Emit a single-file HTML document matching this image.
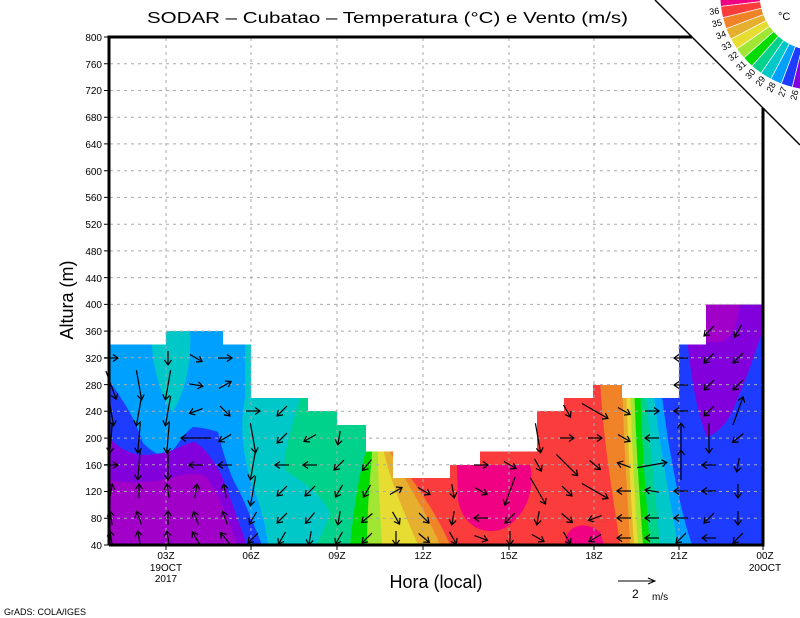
<!DOCTYPE html>
<html><head><meta charset="utf-8"><style>
html,body{margin:0;padding:0;background:#fff;}
svg{display:block;font-family:"Liberation Sans",sans-serif;}
</style></head><body>
<svg width="800" height="618" viewBox="0 0 800 618" xmlns="http://www.w3.org/2000/svg">
<defs>
<clipPath id="cp"><path d="M109,344.5 H166 V331 H223 V344.5 H251 V398 H308 V411 H337 V425 H366 V451.5 H393 V478 H450 V465 H480 V451.5 H537 V411 H564 V398 H593 V385 H622 V398 H679 V344.5 H706 V304.5 H763 V545 H109 Z"/></clipPath>
<g id="a" stroke="#000" stroke-width="1.2" fill="none"><line x1="-7" y1="0" x2="7" y2="0"/><path d="M2,-3.5 L7,0 L2,3.5"/></g>
<g id="b" stroke="#000" stroke-width="1.2" fill="none"><line x1="-15" y1="0" x2="15" y2="0"/><path d="M10,-3.5 L15,0 L10,3.5"/></g>
<path id="w" d="M760,-5 L720,-5 A95,95 0 0 0 720.69,6.45 L760.4,1.63 A55,55 0 0 1 760,-5 Z" stroke="#fff" stroke-width="0.7"/>
</defs>
<rect width="800" height="618" fill="#fff"/>
<g clip-path="url(#cp)">
<rect x="109" y="300" width="654" height="245" fill="#00a0ff"/>
<path d="M152,330 C150,360 160,395 172,412 C185,395 192,360 190,330 Z" fill="#00c8c8"/>
<path d="M109,380 C120,397 133,413 143,443 C152,452 160,456 167,457 C178,445 185,432 193,427 C205,428 212,430 218,432 C222,450 230,475 237,487 C244,500 252,520 262,545 L109,545 Z" fill="#1e3cff"/>
<path d="M109,437 C125,455 140,458 167,452 C180,448 188,442 195,442 C205,448 213,460 220,472 C228,490 236,515 247,545 L109,545 Z" fill="#8200dc"/>
<path d="M109,480 C130,484 150,483 170,478 C185,474 195,472 205,476 C216,490 228,515 237,545 L109,545 Z" fill="#a000c8"/>
<path d="M245,398 C238,430 246,470 253,487 C260,505 266,525 268,545 L763,545 L763,300 L245,300 Z" fill="#00c8c8"/>
<path d="M300,398 C292,430 282,455 285,470 C300,480 320,492 330,513 C325,530 318,540 317,545 L763,545 L763,300 L300,300 Z" fill="#00d28c"/>
<path d="M366,452 C360,470 355,500 350,545 L763,545 L763,300 Z" fill="#00dc00"/>
<path d="M372,452 C370,480 367,510 367,545 L763,545 L763,300 L372,300 Z" fill="#a0e632"/>
<path d="M378,452 C378,480 380,510 382,545 L763,545 L763,300 L378,300 Z" fill="#e6dc32"/>
<path d="M384,452 C390,480 405,515 418,545 L763,545 L763,300 L384,300 Z" fill="#e6af2d"/>
<path d="M390,452 C405,480 428,515 440,545 L763,545 L763,300 L390,300 Z" fill="#f08228"/>
<path d="M405,470 C420,490 440,520 450,545 L763,545 L763,300 L405,300 Z" fill="#fa3c3c"/>
<path d="M457,465 L530,465 C536,490 525,520 500,530 C478,535 462,522 458,500 Z" fill="#f00082"/>
<path d="M565,545 C565,525 585,520 600,532 L604,545 Z" fill="#f00082"/>
<path d="M600,380 C604,450 614,500 620,545 L763,545 L763,300 L600,300 Z" fill="#f08228"/>
<path d="M622,380 C624,450 628,500 630,545 L763,545 L763,300 L622,300 Z" fill="#e6af2d"/>
<path d="M626,380 C628,450 631,500 634,545 L763,545 L763,300 L626,300 Z" fill="#e6dc32"/>
<path d="M630,380 C632,450 635,500 638,545 L763,545 L763,300 L630,300 Z" fill="#a0e632"/>
<path d="M634,380 C636,450 640,500 643,545 L763,545 L763,300 L634,300 Z" fill="#00dc00"/>
<path d="M640,380 C642,450 646,500 650,545 L763,545 L763,300 L640,300 Z" fill="#00d28c"/>
<path d="M645,380 C650,450 656,500 660,545 L763,545 L763,300 L645,300 Z" fill="#00c8c8"/>
<path d="M652,380 C660,450 670,500 678,545 L763,545 L763,300 L652,300 Z" fill="#00a0ff"/>
<path d="M660,380 C668,450 680,510 692,545 L763,545 L763,300 L660,300 Z" fill="#1e3cff"/>
<path d="M688,300 L688,345 C692,390 700,420 707,437 C720,432 730,420 737,400 C748,375 756,350 763,330 L763,300 Z" fill="#8200dc"/>
<path d="M706,300 L740,300 C738,320 735,335 722,342 L706,342 Z" fill="#a000c8"/>
</g>
<path stroke="#aaa" stroke-width="1" stroke-dasharray="3,4" fill="none" d="
M110,518.3H763 M110,491.5H763 M110,464.8H763 M110,438.1H763 M110,411.3H763 M110,384.6H763 M110,357.8H763 M110,331.1H763 M110,304.4H763 M110,277.6H763 M110,250.9H763 M110,224.2H763 M110,197.4H763 M110,170.7H763 M110,143.9H763 M110,117.2H763 M110,90.5H741 M110,63.7H715
M166,38V544 M251,38V544 M337,38V544 M423,38V544 M509,38V544 M594,38V544 M679,38V544"/>
<g>
<use href="#a" transform="translate(111,538) rotate(-100)"/><use href="#a" transform="translate(111,518) rotate(-100)"/><use href="#a" transform="translate(111,491) rotate(-80)"/><use href="#a" transform="translate(111,465) rotate(0)"/><use href="#b" transform="translate(111,438) rotate(95)"/><use href="#b" transform="translate(111,411) rotate(80)"/><use href="#b" transform="translate(111,385) rotate(70)"/><use href="#a" transform="translate(111,358) rotate(0)"/>
<use href="#a" transform="translate(139,538) rotate(-100)"/><use href="#a" transform="translate(139,518) rotate(-110)"/><use href="#a" transform="translate(139,491) rotate(-90)"/><use href="#b" transform="translate(139,465) rotate(95)"/><use href="#b" transform="translate(139,438) rotate(95)"/><use href="#b" transform="translate(139,411) rotate(100)"/><use href="#b" transform="translate(139,385) rotate(80)"/>
<use href="#a" transform="translate(168,538) rotate(-100)"/><use href="#a" transform="translate(168,518) rotate(-90)"/><use href="#a" transform="translate(168,491) rotate(-100)"/><use href="#b" transform="translate(168,465) rotate(90)"/><use href="#b" transform="translate(168,438) rotate(95)"/><use href="#b" transform="translate(168,411) rotate(100)"/><use href="#b" transform="translate(168,385) rotate(100)"/><use href="#a" transform="translate(168,358) rotate(90)"/>
<use href="#a" transform="translate(196,538) rotate(-120)"/><use href="#a" transform="translate(196,518) rotate(-110)"/><use href="#a" transform="translate(196,491) rotate(-80)"/><use href="#a" transform="translate(196,465) rotate(180)"/><use href="#b" transform="translate(196,438) rotate(180)"/><use href="#a" transform="translate(196,411) rotate(160)"/><use href="#a" transform="translate(196,385) rotate(10)"/><use href="#a" transform="translate(196,358) rotate(30)"/>
<use href="#a" transform="translate(225,538) rotate(-130)"/><use href="#a" transform="translate(225,518) rotate(-110)"/><use href="#a" transform="translate(225,491) rotate(-100)"/><use href="#a" transform="translate(225,465) rotate(180)"/><use href="#a" transform="translate(225,438) rotate(150)"/><use href="#a" transform="translate(225,411) rotate(45)"/><use href="#a" transform="translate(225,385) rotate(-30)"/><use href="#a" transform="translate(225,358) rotate(0)"/>
<use href="#a" transform="translate(253,538) rotate(135)"/><use href="#a" transform="translate(253,518) rotate(120)"/><use href="#b" transform="translate(253,491) rotate(100)"/><use href="#b" transform="translate(253,465) rotate(100)"/><use href="#b" transform="translate(253,438) rotate(80)"/><use href="#a" transform="translate(253,411) rotate(0)"/>
<use href="#a" transform="translate(282,538) rotate(120)"/><use href="#a" transform="translate(282,518) rotate(135)"/><use href="#a" transform="translate(282,491) rotate(135)"/><use href="#a" transform="translate(282,465) rotate(180)"/><use href="#a" transform="translate(282,438) rotate(135)"/><use href="#a" transform="translate(282,411) rotate(135)"/>
<use href="#a" transform="translate(310,538) rotate(100)"/><use href="#a" transform="translate(310,518) rotate(130)"/><use href="#a" transform="translate(310,491) rotate(135)"/><use href="#a" transform="translate(310,465) rotate(180)"/><use href="#a" transform="translate(310,438) rotate(150)"/>
<use href="#a" transform="translate(339,538) rotate(120)"/><use href="#a" transform="translate(339,518) rotate(100)"/><use href="#a" transform="translate(339,491) rotate(120)"/><use href="#a" transform="translate(339,465) rotate(135)"/><use href="#a" transform="translate(339,438) rotate(100)"/>
<use href="#a" transform="translate(367,538) rotate(135)"/><use href="#a" transform="translate(367,518) rotate(140)"/><use href="#a" transform="translate(367,491) rotate(120)"/><use href="#a" transform="translate(367,465) rotate(130)"/>
<use href="#a" transform="translate(396,538) rotate(90)"/><use href="#a" transform="translate(396,518) rotate(60)"/><use href="#a" transform="translate(396,491) rotate(-30)"/>
<use href="#a" transform="translate(424,538) rotate(40)"/><use href="#a" transform="translate(424,518) rotate(45)"/><use href="#a" transform="translate(424,491) rotate(30)"/>
<use href="#a" transform="translate(453,538) rotate(60)"/><use href="#a" transform="translate(453,518) rotate(100)"/><use href="#a" transform="translate(453,491) rotate(80)"/>
<use href="#a" transform="translate(481,538) rotate(20)"/><use href="#a" transform="translate(481,518) rotate(180)"/><use href="#a" transform="translate(481,491) rotate(30)"/><use href="#a" transform="translate(481,465) rotate(0)"/>
<use href="#a" transform="translate(510,538) rotate(90)"/><use href="#a" transform="translate(510,518) rotate(135)"/><use href="#b" transform="translate(510,491) rotate(110)"/><use href="#a" transform="translate(510,465) rotate(30)"/>
<use href="#a" transform="translate(538,538) rotate(30)"/><use href="#a" transform="translate(538,518) rotate(100)"/><use href="#b" transform="translate(538,491) rotate(60)"/><use href="#a" transform="translate(538,465) rotate(60)"/><use href="#b" transform="translate(538,438) rotate(80)"/>
<use href="#a" transform="translate(567,538) rotate(60)"/><use href="#a" transform="translate(567,518) rotate(40)"/><use href="#a" transform="translate(567,491) rotate(45)"/><use href="#b" transform="translate(567,465) rotate(45)"/><use href="#a" transform="translate(567,438) rotate(0)"/><use href="#a" transform="translate(567,411) rotate(60)"/>
<use href="#a" transform="translate(595,538) rotate(150)"/><use href="#a" transform="translate(595,518) rotate(160)"/><use href="#b" transform="translate(595,491) rotate(30)"/><use href="#a" transform="translate(595,465) rotate(40)"/><use href="#a" transform="translate(595,438) rotate(0)"/><use href="#b" transform="translate(595,411) rotate(30)"/>
<use href="#a" transform="translate(624,538) rotate(180)"/><use href="#a" transform="translate(624,518) rotate(180)"/><use href="#a" transform="translate(624,491) rotate(180)"/><use href="#a" transform="translate(624,465) rotate(-160)"/><use href="#a" transform="translate(624,438) rotate(30)"/><use href="#a" transform="translate(624,411) rotate(30)"/>
<use href="#a" transform="translate(652,538) rotate(180)"/><use href="#a" transform="translate(652,518) rotate(180)"/><use href="#a" transform="translate(652,491) rotate(-170)"/><use href="#b" transform="translate(652,465) rotate(-10)"/><use href="#a" transform="translate(652,438) rotate(180)"/><use href="#a" transform="translate(652,411) rotate(0)"/>
<use href="#a" transform="translate(681,538) rotate(135)"/><use href="#a" transform="translate(681,518) rotate(180)"/><use href="#a" transform="translate(681,491) rotate(180)"/><use href="#b" transform="translate(681,465) rotate(-90)"/><use href="#b" transform="translate(681,438) rotate(-90)"/><use href="#a" transform="translate(681,411) rotate(180)"/><use href="#a" transform="translate(681,385) rotate(180)"/><use href="#a" transform="translate(681,358) rotate(180)"/>
<use href="#a" transform="translate(709,538) rotate(180)"/><use href="#a" transform="translate(709,518) rotate(135)"/><use href="#a" transform="translate(709,491) rotate(180)"/><use href="#a" transform="translate(709,465) rotate(180)"/><use href="#b" transform="translate(709,438) rotate(90)"/><use href="#a" transform="translate(709,411) rotate(135)"/><use href="#a" transform="translate(709,385) rotate(135)"/><use href="#a" transform="translate(709,358) rotate(135)"/><use href="#a" transform="translate(709,331) rotate(135)"/>
<use href="#a" transform="translate(738,538) rotate(135)"/><use href="#a" transform="translate(738,518) rotate(90)"/><use href="#a" transform="translate(738,491) rotate(90)"/><use href="#a" transform="translate(738,465) rotate(100)"/><use href="#a" transform="translate(738,438) rotate(140)"/><use href="#b" transform="translate(738,411) rotate(-70)"/><use href="#a" transform="translate(738,385) rotate(135)"/><use href="#a" transform="translate(738,358) rotate(135)"/><use href="#a" transform="translate(738,331) rotate(120)"/>
</g>
<path d="M109,545 V37 H692" stroke="#000" stroke-width="3" fill="none"/>
<path d="M109,545 H763 V108" stroke="#000" stroke-width="3" fill="none"/>
<line x1="655" y1="0" x2="800" y2="145" stroke="#000" stroke-width="1.5"/>
<path stroke="#000" stroke-width="1" d="M104,545H109 M104,518.3H109 M104,491.5H109 M104,464.8H109 M104,438.1H109 M104,411.3H109 M104,384.6H109 M104,357.8H109 M104,331.1H109 M104,304.4H109 M104,277.6H109 M104,250.9H109 M104,224.2H109 M104,197.4H109 M104,170.7H109 M104,143.9H109 M104,117.2H109 M104,90.5H109 M104,63.7H109 M104,37H109 M166,545V550 M251,545V550 M337,545V550 M423,545V550 M509,545V550 M594,545V550 M679,545V550 M763,545V550"/>
<g font-size="10" fill="#000" text-anchor="end">
<text x="102" y="549">40</text><text x="102" y="522">80</text><text x="102" y="495">120</text><text x="102" y="469">160</text><text x="102" y="442">200</text><text x="102" y="415">240</text><text x="102" y="389">280</text><text x="102" y="362">320</text><text x="102" y="335">360</text><text x="102" y="308">400</text><text x="102" y="282">440</text><text x="102" y="255">480</text><text x="102" y="228">520</text><text x="102" y="201">560</text><text x="102" y="175">600</text><text x="102" y="148">640</text><text x="102" y="121">680</text><text x="102" y="94">720</text><text x="102" y="68">760</text><text x="102" y="41">800</text>
</g>
<g font-size="10" fill="#000" text-anchor="middle">
<text x="166" y="559">03Z</text><text x="166" y="571">19OCT</text><text x="166" y="582">2017</text>
<text x="251" y="559">06Z</text><text x="337" y="559">09Z</text><text x="423" y="559">12Z</text><text x="509" y="559">15Z</text><text x="594" y="559">18Z</text><text x="679" y="559">21Z</text>
<text x="765" y="559">00Z</text><text x="765" y="571">20OCT</text>
</g>
<text x="147" y="23" font-size="16" textLength="481" lengthAdjust="spacingAndGlyphs">SODAR – Cubatao – Temperatura (°C) e Vento (m/s)</text>
<text transform="translate(73,300) rotate(-90)" font-size="18" text-anchor="middle">Altura (m)</text>
<text x="436" y="588" font-size="18" text-anchor="middle">Hora (local)</text>
<line x1="618" y1="581" x2="654" y2="581" stroke="#000"/>
<path d="M648,578 L655,581 L648,584" stroke="#000" fill="none"/>
<text x="632" y="598" font-size="12">2</text>
<text x="652" y="600" font-size="10">m/s</text>
<text x="4" y="615" font-size="9">GrADS: COLA/IGES</text>
<g>
<use href="#w" fill="#f00082"/>
<use href="#w" fill="#fa3c3c" transform="rotate(-6.923 815 -5)"/>
<use href="#w" fill="#f08228" transform="rotate(-13.846 815 -5)"/>
<use href="#w" fill="#e6af2d" transform="rotate(-20.769 815 -5)"/>
<use href="#w" fill="#e6dc32" transform="rotate(-27.692 815 -5)"/>
<use href="#w" fill="#a0e632" transform="rotate(-34.615 815 -5)"/>
<use href="#w" fill="#00dc00" transform="rotate(-41.538 815 -5)"/>
<use href="#w" fill="#00d28c" transform="rotate(-48.462 815 -5)"/>
<use href="#w" fill="#00c8c8" transform="rotate(-55.385 815 -5)"/>
<use href="#w" fill="#00a0ff" transform="rotate(-62.308 815 -5)"/>
<use href="#w" fill="#1e3cff" transform="rotate(-69.231 815 -5)"/>
<use href="#w" fill="#8200dc" transform="rotate(-76.154 815 -5)"/>
<use href="#w" fill="#a000c8" transform="rotate(-83.077 815 -5)"/>
</g>
<g font-size="9" text-anchor="end" fill="#000">
<text x="718" y="2" transform="rotate(-6.923 815 -5)">36</text>
<text x="718" y="2" transform="rotate(-13.846 815 -5)">35</text>
<text x="718" y="2" transform="rotate(-20.769 815 -5)">34</text>
<text x="718" y="2" transform="rotate(-27.692 815 -5)">33</text>
<text x="718" y="2" transform="rotate(-34.615 815 -5)">32</text>
<text x="718" y="2" transform="rotate(-41.538 815 -5)">31</text>
<text x="718" y="2" transform="rotate(-48.462 815 -5)">30</text>
<text x="718" y="2" transform="rotate(-55.385 815 -5)">29</text>
<text x="718" y="2" transform="rotate(-62.308 815 -5)">28</text>
<text x="718" y="2" transform="rotate(-69.231 815 -5)">27</text>
<text x="718" y="2" transform="rotate(-76.154 815 -5)">26</text>
<text x="718" y="2" transform="rotate(-83.077 815 -5)">25</text>
</g>
<text x="778" y="20" font-size="11">°C</text>
</svg>
</body></html>
